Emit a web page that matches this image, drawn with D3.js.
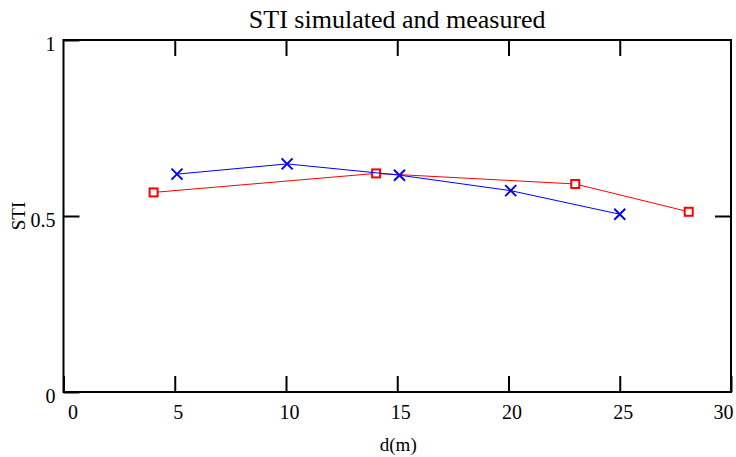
<!DOCTYPE html>
<html>
<head>
<meta charset="utf-8">
<script src="https://cdn.jsdelivr.net/npm/d3@7"></script>
<style>
  html, body { margin: 0; padding: 0; background: #fff; }
  svg { display: block; font-family: "Liberation Serif", "DejaVu Serif", serif; }
</style>
</head>
<body>
<svg id="chart" width="736" height="457"></svg>
<script>
// Simulated STI (blue crosses)
const simulatedD = [5.1, 10.05, 15.1, 20.1, 25.0];
const simulatedSTI = [0.619, 0.648, 0.616, 0.572, 0.505];
// Measured STI (red squares)
const measuredD = [4.05, 14.05, 23.0, 28.1];
const measuredSTI = [0.567, 0.621, 0.591, 0.512];

const xTicks = [0, 5, 10, 15, 20, 25, 30];
const yTicks = [0, 0.5, 1];
const yTickLabels = ["0", "0.5", "1"];

(function () {
  const svg = d3.select("#chart");
  const plotLeft = 63.5, plotRight = 731, plotTop = 40, plotBottom = 392;
  const serif = "Liberation Serif, DejaVu Serif, serif";

  const x = d3.scaleLinear().domain([0, 30]).range([plotLeft, plotRight]);
  const y = d3.scaleLinear().domain([0, 1]).range([plotBottom, plotTop]);

  const tickLen = 16;

  // Frame
  svg.append("rect")
    .attr("x", plotLeft).attr("y", plotTop)
    .attr("width", plotRight - plotLeft).attr("height", plotBottom - plotTop)
    .attr("fill", "none").attr("stroke", "#000").attr("stroke-width", 2);

  // Bottom and top x ticks (inward)
  const xAxisB = d3.axisBottom(x).tickValues(xTicks).tickSizeInner(-tickLen).tickSizeOuter(0).tickPadding(13);
  const gxb = svg.append("g").attr("transform", `translate(0,${plotBottom})`).call(xAxisB);
  gxb.attr("font-family", serif).attr("font-size", 20);
  gxb.select(".domain").remove();
  gxb.selectAll("line").attr("stroke-width", 2);
  gxb.selectAll("text").attr("fill", "#000")
    .attr("dx", d => d === 0 ? 9 : d === 30 ? -8 : 3);

  const xAxisT = d3.axisTop(x).tickValues(xTicks.filter(v => v > 0 && v < 30)).tickSizeInner(-tickLen).tickSizeOuter(0).tickFormat("");
  const gxt = svg.append("g").attr("transform", `translate(0,${plotTop})`).call(xAxisT);
  gxt.select(".domain").remove();
  gxt.selectAll("line").attr("stroke-width", 2);

  // Left and right y ticks (inward)
  const yAxisL = d3.axisLeft(y).tickValues(yTicks).tickSizeInner(-tickLen).tickSizeOuter(0)
    .tickPadding(8).tickFormat((d, i) => yTickLabels[i]);
  const gyl = svg.append("g").attr("transform", `translate(${plotLeft},0)`).call(yAxisL);
  gyl.attr("font-family", serif).attr("font-size", 20);
  gyl.select(".domain").remove();
  gyl.selectAll("line").attr("stroke-width", 2);
  gyl.selectAll("text").attr("fill", "#000").attr("dy", "0.5em");

  const yAxisR = d3.axisRight(y).tickValues(yTicks.filter(v => v > 0 && v < 1)).tickSizeInner(-tickLen).tickSizeOuter(0).tickFormat("");
  const gyr = svg.append("g").attr("transform", `translate(${plotRight},0)`).call(yAxisR);
  gyr.select(".domain").remove();
  gyr.selectAll("line").attr("stroke-width", 2);

  // Title and axis labels
  svg.append("text").attr("x", (plotLeft + plotRight) / 2).attr("y", 28)
    .attr("text-anchor", "middle").attr("font-family", serif).attr("font-size", 26)
    .text("STI simulated and measured");
  svg.append("text").attr("x", (plotLeft + plotRight) / 2 + 1).attr("y", 451)
    .attr("text-anchor", "middle").attr("font-family", serif).attr("font-size", 19).text("d(m)");
  svg.append("text").attr("transform", `translate(25,${(plotTop + plotBottom) / 2}) rotate(-90)`)
    .attr("text-anchor", "middle").attr("font-family", serif).attr("font-size", 19).text("STI");

  const line = d3.line().x(d => x(d[0])).y(d => y(d[1]));

  // Measured series
  const measured = measuredD.map((d, i) => [d, measuredSTI[i]]);
  svg.append("path").datum(measured).attr("d", line)
    .attr("fill", "none").attr("stroke", "#ff0000").attr("stroke-width", 1);
  svg.append("g").selectAll("rect").data(measured).join("rect")
    .attr("x", d => x(d[0]) - 4).attr("y", d => y(d[1]) - 4)
    .attr("width", 8).attr("height", 8)
    .attr("fill", "#fff").attr("stroke", "#ff0000").attr("stroke-width", 2);

  // Simulated series
  const simulated = simulatedD.map((d, i) => [d, simulatedSTI[i]]);
  svg.append("path").datum(simulated).attr("d", line)
    .attr("fill", "none").attr("stroke", "#0000ff").attr("stroke-width", 1);
  const s = 5.5;
  svg.append("g").selectAll("path").data(simulated).join("path")
    .attr("d", d => {
      const cx = x(d[0]), cy = y(d[1]);
      return `M${cx - s},${cy - s}L${cx + s},${cy + s}M${cx - s},${cy + s}L${cx + s},${cy - s}`;
    })
    .attr("fill", "none").attr("stroke", "#0000ff").attr("stroke-width", 2);
})();
</script>
</body>
</html>
